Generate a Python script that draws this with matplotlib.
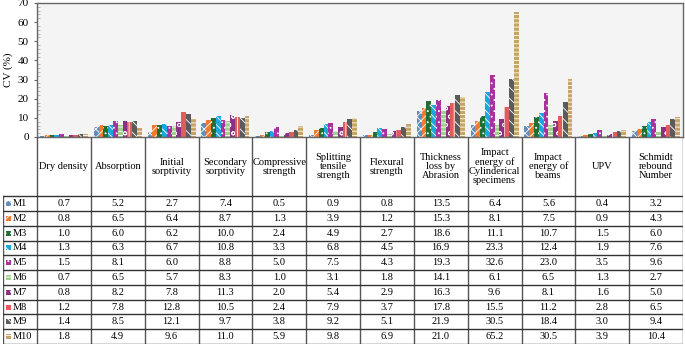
import numpy as np
import matplotlib
matplotlib.use('Agg')
import matplotlib.pyplot as plt
from matplotlib.patches import Rectangle

plt.rcParams['font.family'] = ['Liberation Serif', 'DejaVu Serif']
plt.rcParams['hatch.linewidth'] = 0.6

categories = ['Dry density', 'Absorption', 'Initial\nsorptivity', 'Secondary\nsorptivity',
              'Compressive\nstrength', 'Splitting\ntensile\nstrength', 'Flexural\nstrength',
              'Thickness\nloss by\nAbrasion', 'Impact\nenergy of\nCylinderical\nspecimens',
              'Impact\nenergy of\nbeams', 'UPV', 'Schmidt\nrebound\nNumber']

mixes = ['M1', 'M2', 'M3', 'M4', 'M5', 'M6', 'M7', 'M8', 'M9', 'M10']

M1 = [0.7, 5.2, 2.7, 7.4, 0.5, 0.9, 0.8, 13.5, 6.4, 5.6, 0.4, 3.2]
M2 = [0.8, 6.5, 6.4, 8.7, 1.3, 3.9, 1.2, 15.3, 8.1, 7.5, 0.9, 4.3]
M3 = [1.0, 6.0, 6.2, 10.0, 2.4, 4.9, 2.7, 18.6, 11.1, 10.7, 1.5, 6.0]
M4 = [1.3, 6.3, 6.7, 10.8, 3.3, 6.8, 4.5, 16.9, 23.3, 12.4, 1.9, 7.6]
M5 = [1.5, 8.1, 6.0, 8.8, 5.0, 7.5, 4.3, 19.3, 32.6, 23.0, 3.5, 9.6]
M6 = [0.7, 6.5, 5.7, 8.3, 1.0, 3.1, 1.8, 14.1, 6.1, 6.5, 1.3, 2.7]
M7 = [0.8, 8.2, 7.8, 11.3, 2.0, 5.4, 2.9, 16.3, 9.6, 8.1, 1.6, 5.0]
M8 = [1.2, 7.8, 12.8, 10.5, 2.4, 7.9, 3.7, 17.8, 15.5, 11.2, 2.8, 6.5]
M9 = [1.4, 8.5, 12.1, 9.7, 3.8, 9.2, 5.1, 21.9, 30.5, 18.4, 3.0, 9.4]
M10 = [1.8, 4.9, 9.6, 11.0, 5.9, 9.8, 6.9, 21.0, 65.2, 30.5, 3.9, 10.4]
series = [M1, M2, M3, M4, M5, M6, M7, M8, M9, M10]

colors = ['#5f8cba', '#f27a2e', '#1f6f32', '#1ba6df', '#a8309f',
          '#9dd088', '#8e2f86', '#e15d5d', '#5b5b5b', '#c6a466']
hatches = ['xxxx', '////', '...', '\\\\\\\\', '...', '----', 'oo', '||', '\\\\\\', '----']

W, H = 685, 344
fig = plt.figure(figsize=(W / 100, H / 100), dpi=100)

# chart area
ax = fig.add_axes([37 / W, 1 - 137 / H, 646 / W, 134 / H])
ax.set_facecolor('#f4f4f4')
x = np.arange(len(categories)) + 0.5
bw = 0.089
for j, vals in enumerate(series):
    ax.bar(x + (j - 4.5) * bw, vals, bw, color=colors[j], hatch=hatches[j],
           edgecolor='white', linewidth=0)
ax.set_xlim(0, len(categories))
ax.set_ylim(0, 70)
ax.set_xticks([])
ax.set_yticks(np.arange(0, 71, 10))
ax.set_yticks(np.arange(0, 71, 2), minor=True)
ax.tick_params(axis='y', labelsize=8, length=2, color='#666', pad=4)
ax.tick_params(axis='y', which='minor', length=2, color='#aaa', direction='in')
for s in ax.spines.values():
    s.set_color('#666')
    s.set_linewidth(1)
ax.set_ylabel('CV (%)', fontsize=8, labelpad=3)

# data table underneath
tax = fig.add_axes([3 / W, 0, 680 / W, 1 - 137 / H])
lab_w = 34 / 53.83
tax.set_xlim(-lab_w, len(categories))
tax.set_ylim(0, 14)
tax.axis('off')
lc = '#555'
for i in range(len(categories) + 1):
    tax.plot([i, i], [0, 14], color=lc, lw=1, solid_capstyle='butt')
tax.plot([-lab_w, -lab_w], [0, 10], color=lc, lw=1)
for r in range(11):
    tax.plot([-lab_w, len(categories)], [r, r], color='#333', lw=1)

for i, c in enumerate(categories):
    tax.text(i + 0.5, 12, c, ha='center', va='center', fontsize=7.5, linespacing=1.0)

for r, (m, vals) in enumerate(zip(mixes, series)):
    yc = 9.5 - r
    tax.add_patch(Rectangle((-lab_w + 3 / 53.83, yc - 0.17), 5 / 53.83, 0.34,
                            facecolor=colors[r], hatch=hatches[r], edgecolor='white', lw=0))
    tax.text(-lab_w + 10 / 53.83, yc, m, ha='left', va='center', fontsize=7.5)
    for i, v in enumerate(vals):
        tax.text(i + 0.5, yc, f'{v:.1f}', ha='center', va='center', fontsize=7.5)

fig.savefig('out.png', dpi=100)
